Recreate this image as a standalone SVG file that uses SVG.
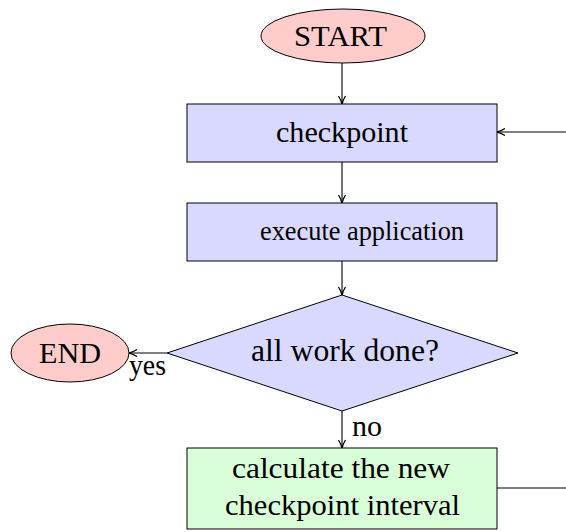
<svg xmlns="http://www.w3.org/2000/svg" width="566" height="532" viewBox="0 0 566 532">
<defs>
<style>
.lbl{font-family:"Liberation Serif","Times New Roman",serif;font-size:30px;fill:#000;}
.term{fill:#ffcccc;stroke:#000;stroke-width:1;}
.proc{fill:#d9d9ff;stroke:#000;stroke-width:1;}
.calc{fill:#d9ffd9;stroke:#000;stroke-width:1;}
.edge{fill:none;stroke:#000;stroke-width:1.1;}
</style>
<marker id="arr" viewBox="0 0 10 10" refX="9.5" refY="5" markerWidth="10" markerHeight="10" markerUnits="userSpaceOnUse" orient="auto">
<path d="M1.5 1.5 Q6 4.5 10 5 Q6 5.5 1.5 8.5" fill="none" stroke="#000" stroke-width="1.3"/>
</marker>
</defs>
<rect width="566" height="532" fill="#fff"/>
<g id="connectors">
<path class="edge" d="M342 63 V104" marker-end="url(#arr)"/>
<path class="edge" d="M342 162 V203" marker-end="url(#arr)"/>
<path class="edge" d="M342 261 V295" marker-end="url(#arr)"/>
<path class="edge" d="M342 411 V448" marker-end="url(#arr)"/>
<path class="edge" d="M167 353 H129" marker-end="url(#arr)"/>
<path class="edge" d="M497 488 H575 V132 H497" marker-end="url(#arr)"/>
<text class="lbl" x="129" y="375" textLength="37" lengthAdjust="spacingAndGlyphs" style="font-size:29px">yes</text>
<text class="lbl" x="352" y="436" textLength="30" lengthAdjust="spacingAndGlyphs" style="font-size:29px">no</text>
</g>
<g id="start">
<ellipse class="term" cx="343" cy="36" rx="82" ry="27"/>
<text class="lbl" x="294" y="46" textLength="93" lengthAdjust="spacingAndGlyphs">START</text>
</g>
<g id="checkpoint">
<rect class="proc" x="187" y="104" width="310" height="58"/>
<text class="lbl" x="276" y="142" textLength="132" lengthAdjust="spacingAndGlyphs">checkpoint</text>
</g>
<g id="execute">
<rect class="proc" x="187" y="203" width="310" height="58"/>
<text class="lbl" x="260" y="240" textLength="204" lengthAdjust="spacingAndGlyphs" style="font-size:28px">execute application</text>
</g>
<g id="decision">
<polygon class="proc" points="342,295 518,353 342,411 167,353"/>
<text class="lbl" x="251" y="361" textLength="188" lengthAdjust="spacingAndGlyphs" style="font-size:31px">all work done?</text>
</g>
<g id="end">
<ellipse class="term" cx="70" cy="353" rx="59" ry="29"/>
<text class="lbl" x="39" y="363" textLength="62" lengthAdjust="spacingAndGlyphs">END</text>
</g>
<g id="calculate">
<rect class="calc" x="187" y="448" width="310" height="81"/>
<text class="lbl" x="232" y="478" textLength="218" lengthAdjust="spacingAndGlyphs">calculate the new</text>
<text class="lbl" x="225" y="515" textLength="235" lengthAdjust="spacingAndGlyphs">checkpoint interval</text>
</g>
</svg>
